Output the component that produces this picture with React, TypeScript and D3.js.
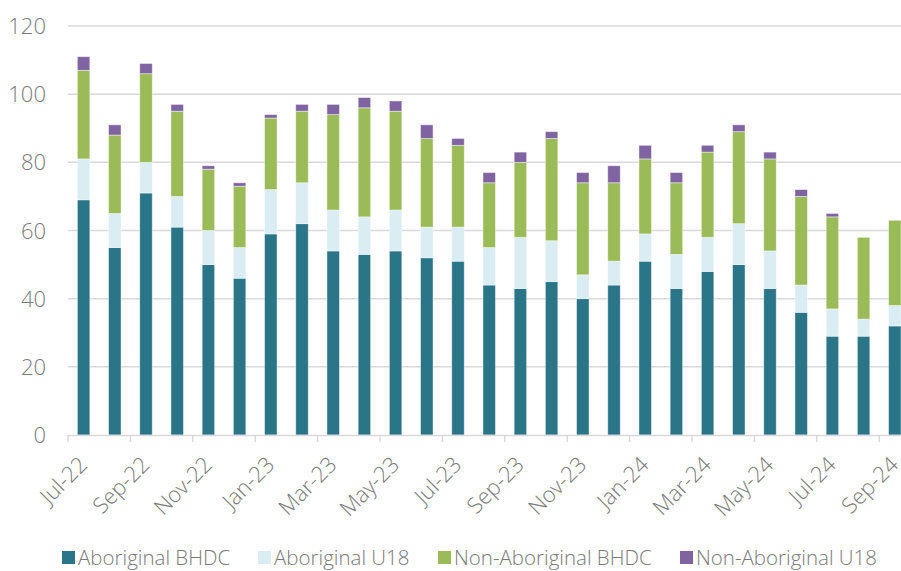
import React, { useRef, useEffect } from "react";
import * as d3 from "d3";

export const months = [
  "Jul-22", "Aug-22", "Sep-22", "Oct-22", "Nov-22", "Dec-22",
  "Jan-23", "Feb-23", "Mar-23", "Apr-23", "May-23", "Jun-23",
  "Jul-23", "Aug-23", "Sep-23", "Oct-23", "Nov-23", "Dec-23",
  "Jan-24", "Feb-24", "Mar-24", "Apr-24", "May-24", "Jun-24",
  "Jul-24", "Aug-24", "Sep-24",
];

export const aboriginalBhdc = [69, 55, 71, 61, 50, 46, 59, 62, 54, 53, 54, 52, 51, 44, 43, 45, 40, 44, 51, 43, 48, 50, 43, 36, 29, 29, 32];
export const aboriginalU18 = [12, 10, 9, 9, 10, 9, 13, 12, 12, 11, 12, 9, 10, 11, 15, 12, 7, 7, 8, 10, 10, 12, 11, 8, 8, 5, 6];
export const nonAboriginalBhdc = [26, 23, 26, 25, 18, 18, 21, 21, 28, 32, 29, 26, 24, 19, 22, 30, 27, 23, 22, 21, 25, 27, 27, 26, 27, 24, 25];
export const nonAboriginalU18 = [4, 3, 3, 2, 1, 1, 1, 2, 3, 3, 3, 4, 2, 3, 3, 2, 3, 5, 4, 3, 2, 2, 2, 2, 1, 0, 0];

export const seriesNames = ["Aboriginal BHDC", "Aboriginal U18", "Non-Aboriginal BHDC", "Non-Aboriginal U18"];
export const colors = ["#2b7589", "#d9edf3", "#9bbb59", "#8064a2"];
export const yTicks = [0, 20, 40, 60, 80, 100, 120];

const FONT = "'Open Sans', 'Noto Sans', sans-serif";
const TEXT_COLOR = "#7a7a7a";

const App = () => {
  const ref = useRef<SVGSVGElement>(null);

  useEffect(() => {
    const width = 901;
    const height = 571;
    const left = 68;
    const step = 31.2;

    const svg = d3.select(ref.current).attr("width", width).attr("height", height);
    svg.selectAll("*").remove();

    const x = d3
      .scaleBand()
      .domain(months)
      .range([left, left + step * months.length])
      .paddingInner(0.6)
      .paddingOuter(0.3);

    const y = d3.scaleLinear().domain([0, 120]).range([435, 26]);

    // gridlines
    svg
      .append("g")
      .selectAll("line")
      .data(yTicks.filter((t) => t > 0))
      .enter()
      .append("line")
      .attr("x1", left)
      .attr("x2", width)
      .attr("y1", (d) => y(d))
      .attr("y2", (d) => y(d))
      .attr("stroke", "#d9d9d9")
      .attr("stroke-width", 1.5);

    // y labels
    svg
      .append("g")
      .selectAll("text")
      .data(yTicks)
      .enter()
      .append("text")
      .attr("x", 46)
      .attr("y", (d) => y(d) + 8)
      .attr("text-anchor", "end")
      .style("font-family", FONT)
      .style("font-weight", 300)
      .style("font-size", "22px")
      .style("fill", TEXT_COLOR)
      .text((d) => d);

    const table = months.map((m, i) => ({
      month: m,
      [seriesNames[0]]: aboriginalBhdc[i],
      [seriesNames[1]]: aboriginalU18[i],
      [seriesNames[2]]: nonAboriginalBhdc[i],
      [seriesNames[3]]: nonAboriginalU18[i],
    }));

    const stack = d3.stack<any>().keys(seriesNames);
    const layers = stack(table);

    svg
      .append("g")
      .selectAll("g")
      .data(layers)
      .enter()
      .append("g")
      .attr("fill", (d, i) => colors[i])
      .selectAll("rect")
      .data((d) => d.filter((p) => p[1] - p[0] > 0))
      .enter()
      .append("rect")
      .attr("x", (d) => x(d.data.month) as number)
      .attr("width", x.bandwidth())
      .attr("y", (d) => y(d[1]))
      .attr("height", (d) => y(d[0]) - y(d[1]))
      .attr("stroke", "rgba(255,255,255,0.55)")
      .attr("stroke-width", 0.8);

    // x axis line and ticks
    const axis = svg.append("g");
    axis
      .append("line")
      .attr("x1", left)
      .attr("x2", width)
      .attr("y1", 435.5)
      .attr("y2", 435.5)
      .attr("stroke", "#d9d9d9")
      .attr("stroke-width", 1.5);

    axis
      .selectAll(".tick")
      .data(months.filter((m, i) => i % 2 === 0))
      .enter()
      .append("line")
      .attr("class", "tick")
      .attr("x1", (d) => (x(d) as number) - x.step() * 0.3)
      .attr("x2", (d) => (x(d) as number) - x.step() * 0.3)
      .attr("y1", 435)
      .attr("y2", 442)
      .attr("stroke", "#d9d9d9")
      .attr("stroke-width", 1.5);

    axis
      .selectAll(".label")
      .data(months.filter((m, i) => i % 2 === 0))
      .enter()
      .append("text")
      .attr("class", "label")
      .attr("text-anchor", "end")
      .attr(
        "transform",
        (d) => `translate(${(x(d) as number) + x.bandwidth() / 2 + 5}, ${466}) rotate(-45)`
      )
      .style("font-family", FONT)
      .style("font-weight", 300)
      .style("font-size", "22px")
      .style("fill", TEXT_COLOR)
      .text((d) => d);

    // legend
    const legendX = [62, 258, 438, 680];
    const legend = svg
      .append("g")
      .selectAll("g")
      .data(seriesNames)
      .enter()
      .append("g")
      .attr("transform", (d, i) => `translate(${legendX[i]}, 551)`);

    legend
      .append("rect")
      .attr("width", 13)
      .attr("height", 13)
      .attr("fill", (d, i) => colors[i]);

    legend
      .append("text")
      .attr("x", 16)
      .attr("y", 14)
      .style("font-family", FONT)
      .style("font-weight", 300)
      .style("font-size", "20.5px")
      .style("fill", TEXT_COLOR)
      .text((d) => d);
  }, []);

  return (
    <svg
      ref={ref}
      style={{ position: "absolute", left: 0, top: 0, display: "block", background: "#fff" }}
    ></svg>
  );
};

export default App;
